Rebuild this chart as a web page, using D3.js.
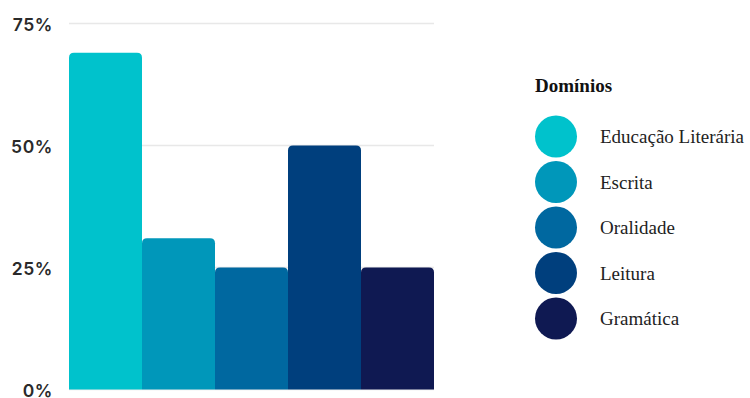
<!DOCTYPE html>
<html>
<head>
<meta charset="utf-8">
<script src="https://cdn.jsdelivr.net/npm/d3@7"></script>
<style>
  html, body { margin: 0; padding: 0; background: #fff; }
  svg { display: block; }
</style>
</head>
<body>
<svg id="chart" width="750" height="398"></svg>
<script>
// Share of items per domain (%)
const categories = ["Educação Literária", "Escrita", "Oralidade", "Leitura", "Gramática"];
const values = [69, 31, 25, 50, 25];
const colors = ["#00c2cc", "#0097ba", "#0068a0", "#003f7d", "#0f1952"];
const yTicks = [0, 25, 50, 75];
const legendTitle = "Domínios";

const svg = d3.select("#chart");

const plot = { left: 69, right: 434, top: 23.5, bottom: 389.5 };

const x = d3.scaleBand()
  .domain(categories)
  .range([plot.left, plot.right])
  .padding(0);

const y = d3.scaleLinear()
  .domain([0, 75])
  .range([plot.bottom, plot.top]);

// horizontal gridlines
svg.append("g")
  .selectAll("line")
  .data(yTicks)
  .join("line")
  .attr("x1", plot.left)
  .attr("x2", plot.right)
  .attr("y1", d => y(d))
  .attr("y2", d => y(d))
  .attr("stroke", "#e8e8e8")
  .attr("stroke-width", 1.5);

// y axis labels
const yAxis = d3.axisLeft(y)
  .tickValues(yTicks)
  .tickFormat(d => d + "%")
  .tickSize(0)
  .tickPadding(16);

const gy = svg.append("g")
  .attr("transform", `translate(${plot.left},0)`)
  .call(yAxis);
gy.select(".domain").remove();
gy.selectAll("text")
  .attr("font-family", "Inter, 'Open Sans', sans-serif")
  .attr("font-weight", 600)
  .attr("font-size", 17.5)
  .attr("letter-spacing", "0.6px")
  .attr("fill", "#2a2a2a")
  .attr("dy", "0.42em");

// bars with rounded top corners
function topRoundedRect(x0, y0, w, h, r) {
  r = Math.min(r, w / 2, h);
  return `M${x0},${y0 + h}` +
    `V${y0 + r}` +
    `Q${x0},${y0} ${x0 + r},${y0}` +
    `H${x0 + w - r}` +
    `Q${x0 + w},${y0} ${x0 + w},${y0 + r}` +
    `V${y0 + h}Z`;
}

svg.append("g")
  .selectAll("path")
  .data(categories)
  .join("path")
  .attr("d", (c, i) => topRoundedRect(x(c), y(values[i]), x.bandwidth(), y(0) - y(values[i]), 5))
  .attr("fill", (c, i) => colors[i]);

// legend
const legend = svg.append("g");
legend.append("text")
  .attr("x", 535)
  .attr("y", 92)
  .attr("font-family", "'Liberation Serif', 'Times New Roman', serif")
  .attr("font-weight", "bold")
  .attr("font-size", 19)
  .attr("fill", "#111")
  .text(legendTitle);

const legendY = d3.scalePoint()
  .domain(categories)
  .range([136.5, 318.5]);

const items = legend.selectAll("g.item")
  .data(categories)
  .join("g")
  .attr("class", "item")
  .attr("transform", c => `translate(0,${legendY(c)})`);

items.append("circle")
  .attr("cx", 556)
  .attr("cy", 0)
  .attr("r", 21)
  .attr("fill", (c, i) => colors[i]);

items.append("text")
  .attr("x", 600)
  .attr("y", 0)
  .attr("dy", "0.35em")
  .attr("font-family", "'Liberation Serif', 'Times New Roman', serif")
  .attr("font-size", 19)
  .attr("fill", "#222")
  .text(c => c);
</script>
</body>
</html>
